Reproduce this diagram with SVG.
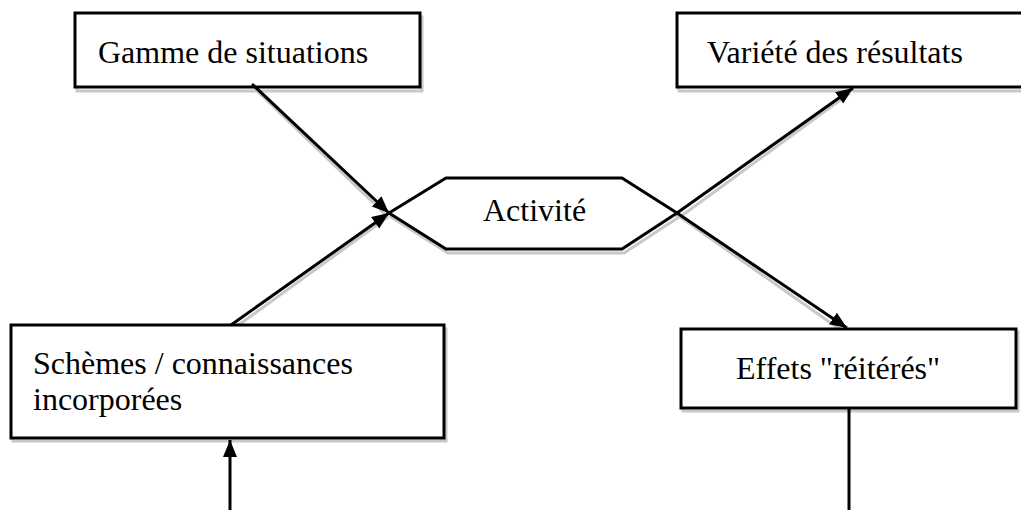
<svg xmlns="http://www.w3.org/2000/svg" width="1021" height="510" viewBox="0 0 1021 510">
<style>
.box{fill:#fff;stroke:#000;stroke-width:3}
.sh{fill:none;stroke:#c8c8c8;stroke-width:3}
.ln{fill:none;stroke:#000;stroke-width:3}
.lsh{fill:none;stroke:#c8c8c8;stroke-width:3}
.t{font-family:"Liberation Serif","Times New Roman",serif;font-size:32px;fill:#000}
</style>
<defs>
<marker id="ah" markerUnits="userSpaceOnUse" markerWidth="18" markerHeight="16" refX="17" refY="8" orient="auto">
<path d="M0,1 L17,8 L0,15 z" fill="#000"/>
</marker>
</defs>
<rect width="1021" height="510" fill="#fff"/>
<g id="connectors-shadow">
<line class="lsh" x1="254" y1="88" x2="388" y2="217"/>
<line class="lsh" x1="233" y1="329" x2="388" y2="217"/>
<line class="lsh" x1="680" y1="217" x2="850" y2="93"/>
<line class="lsh" x1="680" y1="217" x2="845" y2="333"/>
</g>
<g id="n-gamme">
<rect class="sh" x="77" y="17" width="345" height="74"/>
<rect class="box" x="75" y="13" width="345" height="74"/>
<text class="t" x="98" y="63">Gamme de situations</text>
</g>
<g id="n-variete">
<rect class="sh" x="679" y="17" width="347" height="74"/>
<rect class="box" x="677" y="13" width="347" height="74"/>
<text class="t" x="707" y="63">Variété des résultats</text>
</g>
<g id="n-activite">
<polygon class="sh" points="391,217 448,182 624,182 679,217 624,253 448,253"/>
<polygon class="box" points="389,213 446,178 622,178 677,213 622,249 446,249"/>
<text class="t" x="483" y="221">Activité</text>
</g>
<g id="n-schemes">
<rect class="sh" x="13" y="329" width="433" height="112"/>
<rect class="box" x="11" y="325" width="433" height="113"/>
<text class="t" x="33" y="374">Schèmes / connaissances</text>
<text class="t" x="33" y="410">incorporées</text>
</g>
<g id="n-effets">
<rect class="sh" x="683" y="332" width="335" height="79"/>
<rect class="box" x="681" y="329" width="335" height="79"/>
<text class="t" x="736" y="379">Effets "réitérés"</text>
</g>
<g id="connectors">
<line class="ln" x1="252" y1="84" x2="389" y2="213" marker-end="url(#ah)"/>
<line class="ln" x1="231" y1="325" x2="389" y2="213" marker-end="url(#ah)"/>
<line class="ln" x1="677" y1="213" x2="853" y2="88" marker-end="url(#ah)"/>
<line class="ln" x1="677" y1="213" x2="847" y2="328" marker-end="url(#ah)"/>
<line class="ln" x1="230" y1="512" x2="230" y2="440" marker-end="url(#ah)"/>
<line class="ln" x1="849" y1="408" x2="849" y2="512"/>
</g>
</svg>
